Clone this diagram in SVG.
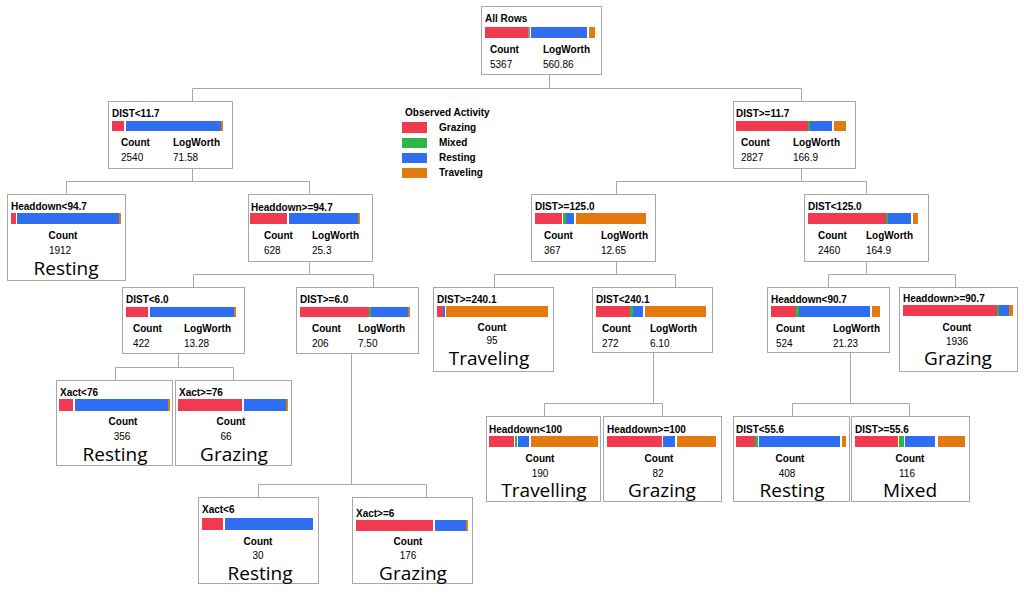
<svg xmlns="http://www.w3.org/2000/svg" width="1024" height="594" viewBox="0 0 1024 594">
<style>
.box{fill:#fff;stroke:#a8a8a8;stroke-width:1}
.t{font-family:"Liberation Sans",Arial,sans-serif;font-size:10px;fill:#000}
.b{font-weight:bold}
.c{text-anchor:middle}
.big{font-family:"Open Sans","Noto Sans",sans-serif;font-size:19px;fill:#000;text-anchor:middle}
.R{fill:#ef3a4f}
.G{fill:#2fb548}
.B{fill:#2f6ef0}
.O{fill:#e27a10}
.con{stroke:#a8a8a8;stroke-width:1;fill:none}
</style>
<rect width="1024" height="594" fill="#fff"/>
<g id="connectors">
<path class="con" d="M549.5 75V88.5M192.5 88.5H801.5M192.5 88.5V101M801.5 88.5V101"/>
<path class="con" d="M192.5 169V181.5M66.5 181.5H309.5M66.5 181.5V194M309.5 181.5V194"/>
<path class="con" d="M801.5 169V181.5M616.5 181.5H866.5M616.5 181.5V194M866.5 181.5V194"/>
<path class="con" d="M309.5 262V274.5M193.5 274.5H373.5M193.5 274.5V287M373.5 274.5V287"/>
<path class="con" d="M616.5 262V274.5M494.5 274.5H675.5M494.5 274.5V287M675.5 274.5V287"/>
<path class="con" d="M866.5 262V274.5M828.5 274.5H955.5M828.5 274.5V287M955.5 274.5V287"/>
<path class="con" d="M178.5 353V367.5M115.5 367.5H233.5M115.5 367.5V380M233.5 367.5V380"/>
<path class="con" d="M351.5 353V484.5M258.5 484.5H426.5M258.5 484.5V497M426.5 484.5V497"/>
<path class="con" d="M653.5 353V403.5M544.5 403.5H662.5M544.5 403.5V416M662.5 403.5V416"/>
<path class="con" d="M850.5 353V403.5M792.5 403.5H909.5M792.5 403.5V416M909.5 403.5V416"/>
</g>
<g id="legend">
<text class="t b" x="405" y="116">Observed Activity</text>
<rect class="R" x="402" y="122" width="25" height="11"/>
<rect class="G" x="402" y="138" width="25" height="10"/>
<rect class="B" x="402" y="153" width="25" height="10"/>
<rect class="O" x="402" y="168" width="25" height="10"/>
<text class="t b" x="439" y="131">Grazing</text>
<text class="t b" x="439" y="146">Mixed</text>
<text class="t b" x="439" y="161">Resting</text>
<text class="t b" x="439" y="176">Traveling</text>
</g>
<g id="root">
<rect class="box" x="481.5" y="6.5" width="120" height="68"/>
<text class="t b" x="485" y="22">All Rows</text>
<rect class="R" x="485" y="27" width="43" height="11"/><rect fill="#8a9a80" x="528" y="27" width="2" height="11"/><rect class="B" x="531" y="27" width="56" height="11"/><rect class="O" x="589" y="27" width="6" height="11"/>
<text class="t b" x="490" y="53">Count</text><text class="t b" x="543" y="53">LogWorth</text>
<text class="t" x="490" y="68">5367</text><text class="t" x="543" y="68">560.86</text>
</g>
<g id="n1">
<rect class="box" x="108.5" y="101.5" width="124" height="67"/>
<text class="t b" x="112" y="117">DIST&lt;11.7</text>
<rect class="R" x="112" y="121" width="12" height="10"/><rect class="B" x="126" y="121" width="95" height="10"/><rect class="O" x="221" y="121" width="2" height="10"/>
<text class="t b" x="121" y="146">Count</text><text class="t b" x="173" y="146">LogWorth</text>
<text class="t" x="121" y="161">2540</text><text class="t" x="173" y="161">71.58</text>
</g>
<g id="n2">
<rect class="box" x="733.5" y="101.5" width="122" height="67"/>
<text class="t b" x="736" y="117">DIST&gt;=11.7</text>
<rect class="R" x="736" y="121" width="72" height="10"/><rect class="G" x="808" y="121" width="2" height="10"/><rect class="B" x="810" y="121" width="22" height="10"/><rect class="O" x="834" y="121" width="12" height="10"/>
<text class="t b" x="741" y="146">Count</text><text class="t b" x="793" y="146">LogWorth</text>
<text class="t" x="741" y="161">2827</text><text class="t" x="793" y="161">166.9</text>
</g>
<g id="n3">
<rect class="box" x="7.5" y="194.5" width="118" height="86"/>
<text class="t b" x="11" y="210">Headdown&lt;94.7</text>
<rect class="R" x="11" y="213" width="5" height="11"/><rect class="B" x="17" y="213" width="102" height="11"/><rect class="O" x="119" y="213" width="2" height="11"/>
<text class="t b c" x="63" y="239">Count</text>
<text class="t c" x="60" y="254">1912</text>
<text class="big" x="66" y="275">Resting</text>
</g>
<g id="n4">
<rect class="box" x="248.5" y="194.5" width="124" height="67"/>
<text class="t b" x="251" y="211">Headdown&gt;=94.7</text>
<rect class="R" x="250" y="213" width="37" height="11"/><rect class="B" x="289" y="213" width="69" height="11"/><rect class="O" x="358" y="213" width="2" height="11"/>
<text class="t b" x="264" y="239">Count</text><text class="t b" x="312" y="239">LogWorth</text>
<text class="t" x="264" y="254">628</text><text class="t" x="312" y="254">25.3</text>
</g>
<g id="n5">
<rect class="box" x="122.5" y="287.5" width="122" height="66"/>
<text class="t b" x="126" y="303">DIST&lt;6.0</text>
<rect class="R" x="126" y="307" width="22" height="10"/><rect class="B" x="150" y="307" width="84" height="10"/><rect class="O" x="234" y="307" width="2" height="10"/>
<text class="t b" x="133" y="332">Count</text><text class="t b" x="184" y="332">LogWorth</text>
<text class="t" x="133" y="347">422</text><text class="t" x="184" y="347">13.28</text>
</g>
<g id="n6">
<rect class="box" x="296.5" y="287.5" width="122" height="66"/>
<text class="t b" x="300" y="303">DIST&gt;=6.0</text>
<rect class="R" x="300" y="307" width="69" height="10"/><rect class="G" x="369" y="307" width="2" height="10"/><rect class="B" x="371" y="307" width="37" height="10"/><rect class="O" x="408" y="307" width="2" height="10"/>
<text class="t b" x="312" y="332">Count</text><text class="t b" x="358" y="332">LogWorth</text>
<text class="t" x="312" y="347">206</text><text class="t" x="358" y="347">7.50</text>
</g>
<g id="n7">
<rect class="box" x="56.5" y="380.5" width="116" height="85"/>
<text class="t b" x="60" y="396">Xact&lt;76</text>
<rect class="R" x="59" y="399" width="14" height="12"/><rect class="B" x="75" y="399" width="93" height="12"/><rect class="O" x="168" y="399" width="2" height="12"/>
<text class="t b c" x="123" y="425">Count</text>
<text class="t c" x="122" y="440">356</text>
<text class="big" x="115" y="461">Resting</text>
</g>
<g id="n8">
<rect class="box" x="175.5" y="380.5" width="116" height="85"/>
<text class="t b" x="179" y="396">Xact&gt;=76</text>
<rect class="R" x="178" y="399" width="64" height="12"/><rect class="B" x="244" y="399" width="42" height="12"/><rect class="O" x="286" y="399" width="2" height="12"/>
<text class="t b c" x="231" y="425">Count</text>
<text class="t c" x="226" y="440">66</text>
<text class="big" x="234" y="461">Grazing</text>
</g>
<g id="n9">
<rect class="box" x="198.5" y="497.5" width="120" height="86"/>
<text class="t b" x="202" y="513">Xact&lt;6</text>
<rect class="R" x="202" y="518" width="21" height="12"/><rect class="B" x="225" y="518" width="88" height="12"/>
<text class="t b c" x="258" y="545">Count</text>
<text class="t c" x="258" y="559">30</text>
<text class="big" x="260" y="580">Resting</text>
</g>
<g id="n10">
<rect class="box" x="352.5" y="497.5" width="120" height="86"/>
<text class="t b" x="356" y="517">Xact&gt;=6</text>
<rect class="R" x="356" y="520" width="77" height="11"/><rect class="B" x="435" y="520" width="31" height="11"/><rect class="O" x="466" y="520" width="2" height="11"/>
<text class="t b c" x="408" y="545">Count</text>
<text class="t c" x="408" y="559">176</text>
<text class="big" x="413" y="580">Grazing</text>
</g>
<g id="n11">
<rect class="box" x="531.5" y="194.5" width="124" height="67"/>
<text class="t b" x="535" y="210">DIST&gt;=125.0</text>
<rect class="R" x="535" y="213" width="27" height="11"/><rect class="G" x="563" y="213" width="3" height="11"/><rect class="B" x="566" y="213" width="8" height="11"/><rect class="O" x="576" y="213" width="70" height="11"/>
<text class="t b" x="544" y="239">Count</text><text class="t b" x="601" y="239">LogWorth</text>
<text class="t" x="544" y="254">367</text><text class="t" x="601" y="254">12.65</text>
</g>
<g id="n12">
<rect class="box" x="804.5" y="194.5" width="124" height="67"/>
<text class="t b" x="808" y="210">DIST&lt;125.0</text>
<rect class="R" x="808" y="213" width="78" height="11"/><rect class="G" x="886" y="213" width="2" height="11"/><rect class="B" x="888" y="213" width="23" height="11"/><rect class="O" x="913" y="213" width="5" height="11"/>
<text class="t b" x="818" y="239">Count</text><text class="t b" x="866" y="239">LogWorth</text>
<text class="t" x="818" y="254">2460</text><text class="t" x="866" y="254">164.9</text>
</g>
<g id="n13">
<rect class="box" x="433.5" y="287.5" width="120" height="84"/>
<text class="t b" x="437" y="303">DIST&gt;=240.1</text>
<rect class="R" x="437" y="306" width="6" height="11"/><rect class="B" x="443" y="306" width="2" height="11"/><rect class="O" x="446" y="306" width="102" height="11"/>
<text class="t b c" x="492" y="331">Count</text>
<text class="t c" x="492" y="344">95</text>
<text class="big" x="489" y="365">Traveling</text>
</g>
<g id="n14">
<rect class="box" x="592.5" y="287.5" width="120" height="65"/>
<text class="t b" x="596" y="303">DIST&lt;240.1</text>
<rect class="R" x="596" y="306" width="34" height="11"/><rect class="G" x="630" y="306" width="3" height="11"/><rect class="B" x="633" y="306" width="10" height="11"/><rect class="O" x="645" y="306" width="61" height="11"/>
<text class="t b" x="602" y="332">Count</text><text class="t b" x="650" y="332">LogWorth</text>
<text class="t" x="602" y="347">272</text><text class="t" x="650" y="347">6.10</text>
</g>
<g id="n15">
<rect class="box" x="486.5" y="416.5" width="114" height="85"/>
<text class="t b" x="489" y="433">Headdown&lt;100</text>
<rect class="R" x="489" y="436" width="25" height="11"/><rect class="G" x="515" y="436" width="2" height="11"/><rect class="B" x="518" y="436" width="11" height="11"/><rect class="O" x="531" y="436" width="67" height="11"/>
<text class="t b c" x="540" y="462">Count</text>
<text class="t c" x="540" y="477">190</text>
<text class="big" x="544" y="497">Travelling</text>
</g>
<g id="n16">
<rect class="box" x="603.5" y="416.5" width="118" height="85"/>
<text class="t b" x="607" y="433">Headdown&gt;=100</text>
<rect class="R" x="607" y="436" width="55" height="11"/><rect class="B" x="663" y="436" width="12" height="11"/><rect class="O" x="677" y="436" width="39" height="11"/>
<text class="t b c" x="659" y="462">Count</text>
<text class="t c" x="658" y="477">82</text>
<text class="big" x="662" y="497">Grazing</text>
</g>
<g id="n17">
<rect class="box" x="767.5" y="287.5" width="122" height="65"/>
<text class="t b" x="771" y="303">Headdown&lt;90.7</text>
<rect class="R" x="771" y="306" width="25" height="11"/><rect class="G" x="796" y="306" width="3" height="11"/><rect class="B" x="799" y="306" width="71" height="11"/><rect class="O" x="872" y="306" width="8" height="11"/>
<text class="t b" x="776" y="332">Count</text><text class="t b" x="833" y="332">LogWorth</text>
<text class="t" x="776" y="347">524</text><text class="t" x="833" y="347">21.23</text>
</g>
<g id="n18">
<rect class="box" x="899.5" y="287.5" width="118" height="84"/>
<text class="t b" x="903" y="302">Headdown&gt;=90.7</text>
<rect class="R" x="903" y="305" width="94" height="11"/><rect class="G" x="997" y="305" width="2" height="11"/><rect class="B" x="999" y="305" width="10" height="11"/><rect class="O" x="1009" y="305" width="4" height="11"/>
<text class="t b c" x="957" y="331">Count</text>
<text class="t c" x="957" y="345">1936</text>
<text class="big" x="958" y="365">Grazing</text>
</g>
<g id="n19">
<rect class="box" x="733.5" y="416.5" width="116" height="85"/>
<text class="t b" x="736" y="433">DIST&lt;55.6</text>
<rect class="R" x="736" y="436" width="19" height="11"/><rect class="G" x="755" y="436" width="3" height="11"/><rect class="B" x="759" y="436" width="81" height="11"/><rect class="O" x="842" y="436" width="4" height="11"/>
<text class="t b c" x="790" y="462">Count</text>
<text class="t c" x="787" y="477">408</text>
<text class="big" x="792" y="497">Resting</text>
</g>
<g id="n20">
<rect class="box" x="851.5" y="416.5" width="118" height="85"/>
<text class="t b" x="855" y="433">DIST&gt;=55.6</text>
<rect class="R" x="855" y="436" width="43" height="11"/><rect class="G" x="899" y="436" width="5" height="11"/><rect class="B" x="905" y="436" width="30" height="11"/><rect class="O" x="938" y="436" width="27" height="11"/>
<text class="t b c" x="910" y="462">Count</text>
<text class="t c" x="907" y="477">116</text>
<text class="big" x="910" y="497">Mixed</text>
</g>
</svg>
